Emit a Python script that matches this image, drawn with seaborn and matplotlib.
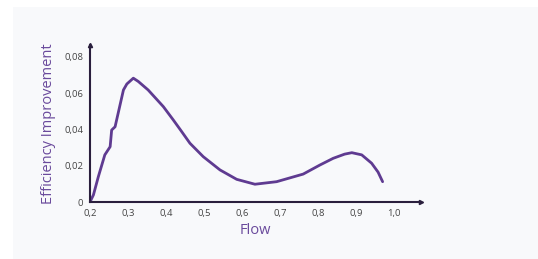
import numpy as np
import pandas as pd
import matplotlib.pyplot as plt
import seaborn as sns
from matplotlib.patches import Rectangle

# values
flow = [0.200, 0.209, 0.222, 0.239, 0.253, 0.257, 0.266, 0.288, 0.297, 0.314,
        0.327, 0.353, 0.393, 0.419, 0.440, 0.463, 0.498, 0.542, 0.586, 0.634,
        0.691, 0.761, 0.805, 0.840, 0.870, 0.889, 0.915, 0.941, 0.958, 0.970]
efficiency = [0.0000, 0.0039, 0.0140, 0.0260, 0.0305, 0.0397, 0.0415, 0.0618, 0.0651, 0.0683,
              0.0665, 0.0618, 0.0526, 0.0453, 0.0392, 0.0324, 0.0250, 0.0177, 0.0125, 0.0098,
              0.0112, 0.0154, 0.0204, 0.0241, 0.0264, 0.0272, 0.0260, 0.0214, 0.0165, 0.0112]
x_ticks = [0.2, 0.3, 0.4, 0.5, 0.6, 0.7, 0.8, 0.9, 1.0]
y_ticks = [0, 0.02, 0.04, 0.06, 0.08]

df = pd.DataFrame({'Flow': flow, 'Efficiency Improvement': efficiency})

sns.set_style('white')
plt.rcParams['font.family'] = ['Open Sans', 'DejaVu Sans']

W, H = 538, 259
fig = plt.figure(figsize=(W / 100, H / 100), dpi=100)
fig.patch.set_facecolor('white')
fig.patches.append(Rectangle((13 / W, 0), 1, 1 - 7 / H, transform=fig.transFigure,
                             facecolor='#f8f9fb', edgecolor='none', zorder=-5))

ax = fig.add_axes([90 / W, 57 / H, 331 / W, 157 / H])
ax.set_facecolor('none')
ax.set_zorder(2)

sns.lineplot(data=df, x='Flow', y='Efficiency Improvement', ax=ax,
             color='#5f3b91', linewidth=2, solid_capstyle='round', solid_joinstyle='round')

ax.set_xlim(0.2, 1.071)
ax.set_ylim(0, 0.0866)
ax.set_xticks(x_ticks)
ax.set_xticklabels([f'{v:.1f}'.replace('.', ',') for v in x_ticks])
ax.set_yticks(y_ticks)
ax.set_yticklabels(['0'] + [f'{v:.2f}'.replace('.', ',') for v in y_ticks[1:]])
ax.tick_params(length=0, labelsize=6.8, labelcolor='#444444', pad=5)

for s in ['top', 'right']:
    ax.spines[s].set_visible(False)
for s in ['left', 'bottom']:
    ax.spines[s].set_color('#2a1f3d')
    ax.spines[s].set_linewidth(1.5)
ax.plot(1, 0, '>', color='#2a1f3d', markersize=3, transform=ax.transAxes, clip_on=False)
ax.plot(0, 1, '^', color='#2a1f3d', markersize=3, transform=ax.transAxes, clip_on=False)

ax.set_xlabel('Flow', fontsize=10.5, color='#6a4a9c', labelpad=4)
ax.set_ylabel('Efficiency Improvement', fontsize=10.5, color='#6a4a9c', labelpad=6)

fig.savefig('out.png', dpi=100)
